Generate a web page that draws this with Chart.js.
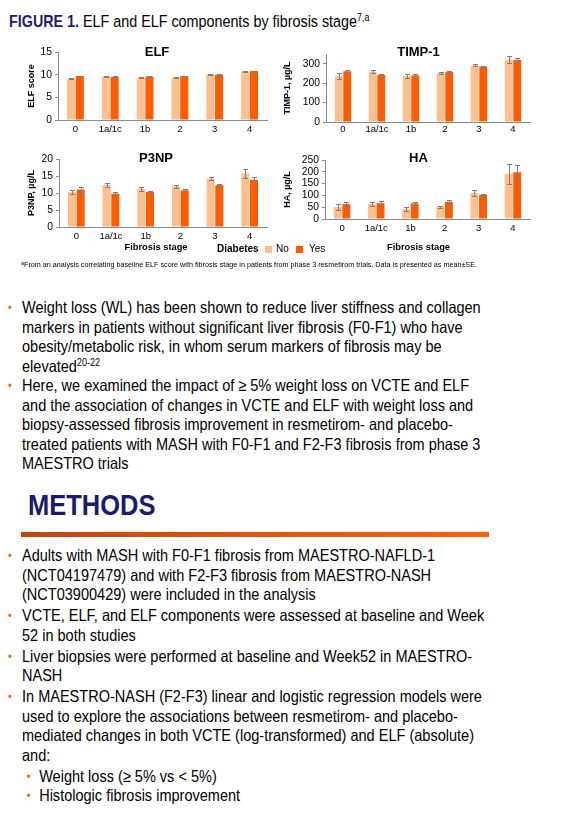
<!DOCTYPE html>
<html>
<head>
<meta charset="utf-8">
<script src="https://cdn.jsdelivr.net/npm/chart.js@4.4.1/dist/chart.umd.min.js"></script>
<style>
  body { margin: 0; width: 584px; height: 817px; background: #fff; position: relative; overflow: hidden;
         font-family: "Liberation Sans", Arial, sans-serif; color: #000; }
  canvas { position: absolute; }
  .squeeze { position: absolute; transform-origin: 0 0; white-space: nowrap; }
  sup { font-size: 62%; line-height: 0; position: relative; top: -0.55em; vertical-align: baseline; }
  #hdr { left: 9px; top: 11px; font-size: 16.3px; line-height: 20px; transform: scaleX(0.88); }
  #hdr b { color: #1f1d72; }
  #foot { left: 21px; top: 260px; font-size: 8px; line-height: 10px; transform: scaleX(0.9); }
  #foot sup { font-size: 75%; top: -0.3em; }
  .list { left: 0; font-size: 16.5px; line-height: 19.5px; transform: scaleX(0.88); }
  .list .it { position: relative; padding-left: 25px; }
  .list .it::before { content: "\2022"; position: absolute; left: 9px; top: 1px; color: #f26a1b; font-size: 12px; }
  .list .sub { padding-left: 44.5px; }
  .list .sub::before { left: 30.5px; }
  #methods .it { margin-top: 1.5px; }
  #methods .it:first-child { margin-top: 0; }
  #mh { left: 28px; top: 488px; font-size: 30px; line-height: 34px; font-weight: bold; color: #1b1a6b; transform: scaleX(0.85); }
  #rule { position: absolute; left: 21px; top: 532px; width: 468px; height: 5px;
          background: linear-gradient(to right, #c4460c, #ff5f0a); }
  .lg { position: absolute; font-size: 10px; line-height: 12px; top: 243px; white-space: nowrap; }
  .sw { position: absolute; width: 7px; height: 7px; top: 246px; }
</style>
</head>
<body>

<div id="hdr" class="squeeze"><b>FIGURE 1.</b> ELF and ELF components by fibrosis stage<sup>7,a</sup></div>

<canvas id="elf" width="280" height="100" style="left:0;top:40px"></canvas>
<canvas id="timp" width="270" height="102" style="left:270px;top:40px"></canvas>
<canvas id="p3np" width="280" height="107" style="left:0;top:146px"></canvas>
<canvas id="ha" width="270" height="107" style="left:270px;top:146px"></canvas>

<div class="lg" style="left:217px;font-weight:bold">Diabetes</div>
<div class="sw" style="left:265px;background:#fdbf8d"></div>
<div class="lg" style="left:276px">No</div>
<div class="sw" style="left:296px;background:#ff5b00"></div>
<div class="lg" style="left:309px">Yes</div>

<div id="foot" class="squeeze"><sup>a</sup>From an analysis correlating baseline ELF score with fibrosis stage in patients from phase 3 resmetirom trials. Data is presented as mean±SE.</div>

<div class="list squeeze" style="top:298px">
  <div class="it">Weight loss (WL) has been shown to reduce liver stiffness and collagen<br>markers in patients without significant liver fibrosis (F0-F1) who have<br>obesity/metabolic risk, in whom serum markers of fibrosis may be<br>elevated<sup>20-22</sup></div>
  <div class="it">Here, we examined the impact of ≥ 5% weight loss on VCTE and ELF<br>and the association of changes in VCTE and ELF with weight loss and<br>biopsy-assessed fibrosis improvement in resmetirom- and placebo-<br>treated patients with MASH with F0-F1 and F2-F3 fibrosis from phase 3<br>MAESTRO trials</div>
</div>

<div id="mh" class="squeeze">METHODS</div>
<div id="rule"></div>

<div id="methods" class="list squeeze" style="top:546px">
  <div class="it">Adults with MASH with F0-F1 fibrosis from MAESTRO-NAFLD-1<br>(NCT04197479) and with F2-F3 fibrosis from MAESTRO-NASH<br>(NCT03900429) were included in the analysis</div>
  <div class="it">VCTE, ELF, and ELF components were assessed at baseline and Week<br>52 in both studies</div>
  <div class="it">Liver biopsies were performed at baseline and Week52 in MAESTRO-<br>NASH</div>
  <div class="it">In MAESTRO-NASH (F2-F3) linear and logistic regression models were<br>used to explore the associations between resmetirom- and placebo-<br>mediated changes in both VCTE (log-transformed) and ELF (absolute)<br>and:</div>
  <div class="it sub">Weight loss (≥ 5% vs &lt; 5%)</div>
  <div class="it sub" style="margin-top:0">Histologic fibrosis improvement</div>
</div>

<script>
// Baseline values by fibrosis stage, mean and SE, no diabetes vs diabetes
const stages = ['0', '1a/1c', '1b', '2', '3', '4'];

const elfNo = [9.1, 9.6, 9.3, 9.4, 10.1, 10.7];
const elfNoSe = [0.12, 0.1, 0.1, 0.08, 0.08, 0.15];
const elfYes = [9.7, 9.5, 9.6, 9.7, 10.0, 10.8];
const elfYesSe = [0.08, 0.1, 0.07, 0.07, 0.07, 0.1];

const timpNo = [235, 259, 237, 252, 291, 322];
const timpNoSe = [15, 8, 8, 5, 5, 18];
const timpYes = [261, 242, 240, 257, 285, 319];
const timpYesSe = [9, 7, 5, 5, 4, 12];

const p3npNo = [10.3, 12.3, 11.2, 12.0, 14.2, 15.8];
const p3npNoSe = [0.7, 0.6, 0.6, 0.4, 0.4, 1.4];
const p3npYes = [11.0, 9.8, 10.3, 10.8, 12.3, 13.9];
const p3npYesSe = [0.8, 0.5, 0.4, 0.3, 0.3, 0.7];

const haNo = [50, 63, 42, 52, 111, 191];
const haNoSe = [12, 10, 7, 4, 13, 42];
const haYes = [63, 67, 66, 73, 102, 198];
const haYesSe = [10, 9, 6, 7, 5, 29];

const NO_COLOR = '#fdbf8d';
const YES_COLOR = '#ff5b00';
const AXIS_COLOR = '#8a8a8a';

Chart.defaults.font.family = '"Liberation Sans", Arial, sans-serif';
Chart.defaults.color = '#000';

// mean +/- SE whiskers
const errorBars = {
    id: 'errorBars',
    afterDatasetsDraw(chart) {
        const ctx = chart.ctx;
        const y = chart.scales.y;
        ctx.save();
        ctx.strokeStyle = '#7f7f7f';
        ctx.lineWidth = 1;
        chart.data.datasets.forEach((ds, i) => {
            chart.getDatasetMeta(i).data.forEach((bar, j) => {
                const v = ds.data[j], e = ds.errors[j];
                const x = Math.round(bar.x) + 0.5;
                const top = Math.round(y.getPixelForValue(v + e)) + 0.5;
                const bot = Math.round(y.getPixelForValue(v - e)) + 0.5;
                ctx.beginPath();
                ctx.moveTo(x, top); ctx.lineTo(x, bot);
                ctx.moveTo(x - 2.5, top); ctx.lineTo(x + 2.5, top);
                ctx.moveTo(x - 2.5, bot); ctx.lineTo(x + 2.5, bot);
                ctx.stroke();
            });
        });
        ctx.restore();
    }
};

function makePanel(id, p) {
    const ctx = document.getElementById(id);
    return new Chart(ctx, {
        type: 'bar',
        data: {
            labels: stages,
            datasets: [
                { label: 'No', data: p.no, errors: p.noSe, backgroundColor: NO_COLOR },
                { label: 'Yes', data: p.yes, errors: p.yesSe, backgroundColor: YES_COLOR }
            ]
        },
        options: {
            responsive: false,
            animation: false,
            layout: { padding: p.padding },
            datasets: { bar: { categoryPercentage: 0.5, barPercentage: 0.93 } },
            plugins: {
                legend: { display: false },
                tooltip: { enabled: false },
                title: {
                    display: true,
                    text: p.title,
                    font: { size: 13, weight: 'bold', lineHeight: '16px' },
                    padding: { top: 0, bottom: p.titleGap }
                },
                subtitle: {
                    display: !!p.xTitle,
                    text: p.xTitle || '',
                    position: 'bottom',
                    font: { size: 9.3, weight: 'bold', lineHeight: '11px' },
                    padding: 0
                }
            },
            scales: {
                x: {
                    grid: { display: false, drawTicks: false },
                    border: { color: AXIS_COLOR },
                    ticks: { padding: p.xPad, font: { size: 9.5 } },
                    afterFit: s => { s.height = p.xH; }
                },
                y: {
                    min: 0,
                    max: p.max,
                    ticks: { stepSize: p.step, includeBounds: false, padding: 3, autoSkip: false, font: { size: 10.3 } },
                    grid: { drawOnChartArea: false, tickLength: 3, color: AXIS_COLOR },
                    border: { color: AXIS_COLOR },
                    title: {
                        display: true,
                        text: p.yTitle,
                        font: { size: 9, weight: 'bold', lineHeight: 1.2 },
                        padding: { top: p.yTitlePad, bottom: 0 }
                    },
                    afterFit: s => { s.width = p.yW; }
                },
                // empty right-hand spacer so the panel title sits where the original has it
                gap: {
                    type: 'linear',
                    axis: 'y',
                    position: 'right',
                    grid: { display: false, drawTicks: false },
                    border: { display: false },
                    ticks: { display: false },
                    afterFit: s => { s.width = p.rightGap; }
                }
            }
        },
        plugins: [errorBars]
    });
}

makePanel('elf', {
    title: 'ELF', yTitle: 'ELF score', no: elfNo, noSe: elfNoSe, yes: elfYes, yesSe: elfYesSe,
    max: 15, step: 5, padding: { left: 36, right: 2, top: 4, bottom: 0 },
    titleGap: -8, yW: 22, yTitlePad: -9.4, rightGap: 11, xH: 20, xPad: 4
});

makePanel('timp', {
    title: 'TIMP-1', yTitle: 'TIMP-1, µg/L', no: timpNo, noSe: timpNoSe, yes: timpYes, yesSe: timpYesSe,
    max: 350, step: 100, padding: { left: 30, right: 3, top: 4, bottom: 0 },
    titleGap: -6, yW: 26, yTitlePad: -18, rightGap: 7, xH: 20, xPad: 2
});

makePanel('p3np', {
    title: 'P3NP', yTitle: 'P3NP, µg/L', xTitle: 'Fibrosis stage', no: p3npNo, noSe: p3npNoSe, yes: p3npYes, yesSe: p3npYesSe,
    max: 20, step: 5, padding: { left: 36, right: 4, top: 4, bottom: 0 },
    titleGap: -7, yW: 23, yTitlePad: -9.4, rightGap: 9, xH: 15, xPad: 4
});

makePanel('ha', {
    title: 'HA', yTitle: 'HA, µg/L', xTitle: 'Fibrosis stage', no: haNo, noSe: haNoSe, yes: haYes, yesSe: haYesSe,
    max: 250, step: 50, padding: { left: 30, right: 3, top: 4, bottom: 0 },
    titleGap: -6, yW: 25, yTitlePad: -17.4, rightGap: 7, xH: 23, xPad: 3.5
});
</script>
</body>
</html>
